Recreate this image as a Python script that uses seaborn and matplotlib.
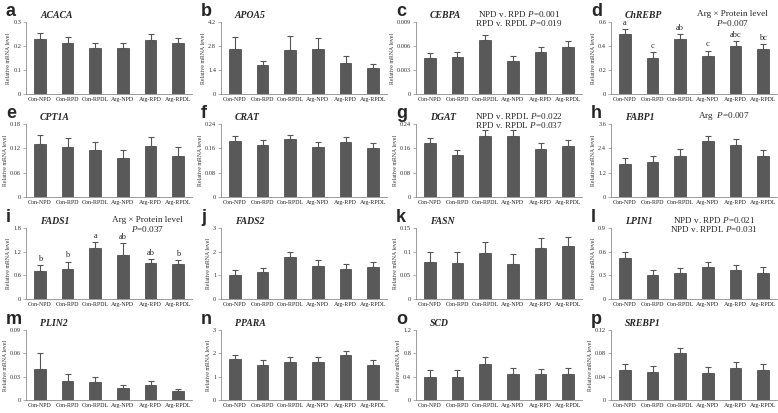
import numpy as np
import pandas as pd
import matplotlib
matplotlib.use("Agg")
import matplotlib.pyplot as plt
import seaborn as sns

groups = ["Con-NPD", "Con-RPD", "Con-RPDL", "Arg-NPD", "Arg-RPD", "Arg-RPDL"]

acaca_mean = [0.231, 0.214, 0.192, 0.191, 0.227, 0.213]
acaca_err = [0.022, 0.022, 0.022, 0.021, 0.022, 0.020]
acaca_ticks = [0, 0.1, 0.2, 0.3]

apoa5_mean = [2.65, 1.70, 2.55, 2.65, 1.80, 1.50]
apoa5_err = [0.70, 0.25, 0.85, 0.60, 0.40, 0.25]
apoa5_ticks = [0, 1.4, 2.8, 4.2]

cebpa_mean = [0.0045, 0.0046, 0.0068, 0.0041, 0.0053, 0.0059]
cebpa_err = [0.0006, 0.0006, 0.0006, 0.0006, 0.0006, 0.0007]
cebpa_ticks = [0, 0.003, 0.006, 0.009]

chrebp_mean = [0.497, 0.298, 0.456, 0.318, 0.400, 0.373]
chrebp_err = [0.043, 0.050, 0.044, 0.044, 0.045, 0.044]
chrebp_ticks = [0, 0.2, 0.4, 0.6]
chrebp_letters = ["a", "c", "ab", "c", "abc", "bc"]

cpt1a_mean = [0.131, 0.124, 0.115, 0.097, 0.125, 0.102]
cpt1a_err = [0.022, 0.022, 0.020, 0.019, 0.022, 0.021]
cpt1a_ticks = [0, 0.06, 0.12, 0.18]

crat_mean = [0.183, 0.172, 0.191, 0.166, 0.181, 0.161]
crat_err = [0.016, 0.016, 0.014, 0.015, 0.016, 0.015]
crat_ticks = [0, 0.08, 0.16, 0.24]

dgat_mean = [0.177, 0.139, 0.201, 0.201, 0.158, 0.168]
dgat_err = [0.017, 0.016, 0.019, 0.019, 0.018, 0.020]
dgat_ticks = [0, 0.08, 0.16, 0.24]

fabp1_mean = [1.62, 1.73, 2.04, 2.75, 2.58, 2.01]
fabp1_err = [0.31, 0.28, 0.31, 0.27, 0.30, 0.30]
fabp1_ticks = [0, 1.2, 2.4, 3.6]

fads1_mean = [0.72, 0.77, 1.29, 1.12, 0.925, 0.88]
fads1_err = [0.14, 0.18, 0.15, 0.30, 0.095, 0.10]
fads1_ticks = [0, 0.6, 1.2, 1.8]
fads1_letters = ["b", "b", "a", "ab", "ab", "b"]

fads2_mean = [1.02, 1.12, 1.77, 1.41, 1.27, 1.34]
fads2_err = [0.21, 0.21, 0.21, 0.22, 0.22, 0.22]
fads2_ticks = [0, 1, 2, 3]

fasn_mean = [0.078, 0.077, 0.098, 0.074, 0.108, 0.111]
fasn_err = [0.021, 0.022, 0.022, 0.021, 0.021, 0.021]
fasn_ticks = [0, 0.05, 0.1, 0.15]

lpin1_mean = [0.526, 0.306, 0.327, 0.403, 0.370, 0.335]
lpin1_err = [0.068, 0.064, 0.063, 0.067, 0.063, 0.065]
lpin1_ticks = [0, 0.3, 0.6, 0.9]

plin2_mean = [0.040, 0.025, 0.023, 0.016, 0.019, 0.012]
plin2_err = [0.021, 0.008, 0.006, 0.003, 0.006, 0.002]
plin2_ticks = [0, 0.03, 0.06, 0.09]

ppara_mean = [1.75, 1.50, 1.65, 1.65, 1.95, 1.50]
ppara_err = [0.20, 0.20, 0.20, 0.20, 0.15, 0.20]
ppara_ticks = [0, 1, 2, 3]

scd_mean = [0.40, 0.40, 0.62, 0.45, 0.44, 0.45]
scd_err = [0.12, 0.12, 0.12, 0.10, 0.10, 0.10]
scd_ticks = [0, 0.4, 0.8, 1.2]

srebp1_mean = [0.052, 0.048, 0.080, 0.046, 0.055, 0.052]
srebp1_err = [0.010, 0.010, 0.010, 0.010, 0.010, 0.010]
srebp1_ticks = [0, 0.04, 0.08, 0.12]

panels = [
    ("a", "ACACA", acaca_mean, acaca_err, acaca_ticks, None),
    ("b", "APOA5", apoa5_mean, apoa5_err, apoa5_ticks, None),
    ("c", "CEBPA", cebpa_mean, cebpa_err, cebpa_ticks, None),
    ("d", "ChREBP", chrebp_mean, chrebp_err, chrebp_ticks, chrebp_letters),
    ("e", "CPT1A", cpt1a_mean, cpt1a_err, cpt1a_ticks, None),
    ("f", "CRAT", crat_mean, crat_err, crat_ticks, None),
    ("g", "DGAT", dgat_mean, dgat_err, dgat_ticks, None),
    ("h", "FABP1", fabp1_mean, fabp1_err, fabp1_ticks, None),
    ("i", "FADS1", fads1_mean, fads1_err, fads1_ticks, fads1_letters),
    ("j", "FADS2", fads2_mean, fads2_err, fads2_ticks, None),
    ("k", "FASN", fasn_mean, fasn_err, fasn_ticks, None),
    ("l", "LPIN1", lpin1_mean, lpin1_err, lpin1_ticks, None),
    ("m", "PLIN2", plin2_mean, plin2_err, plin2_ticks, None),
    ("n", "PPARA", ppara_mean, ppara_err, ppara_ticks, None),
    ("o", "SCD", scd_mean, scd_err, scd_ticks, None),
    ("p", "SREBP1", srebp1_mean, srebp1_err, srebp1_ticks, None),
]

annotations = {
    "c": ["NPD v. RPD $\\it{P}$=0.001", "RPD v. RPDL $\\it{P}$=0.019"],
    "d": ["Arg × Protein level", "$\\it{P}$=0.007"],
    "g": ["NPD v. RPDL $\\it{P}$=0.022", "RPD v. RPDL $\\it{P}$=0.037"],
    "h": ["Arg  $\\it{P}$=0.007"],
    "i": ["Arg × Protein level", "$\\it{P}$=0.037"],
    "l": ["NPD v. RPD $\\it{P}$=0.021", "NPD v. RPDL $\\it{P}$=0.031"],
}

sns.set_style("white")
plt.rcParams["font.family"] = ["Liberation Serif", "DejaVu Serif"]
plt.rcParams["mathtext.fontset"] = "custom"
plt.rcParams["mathtext.it"] = "Liberation Serif:italic"
plt.rcParams["mathtext.rm"] = "Liberation Serif"

W, H = 778, 413
fig = plt.figure(figsize=(W / 100, H / 100), dpi=100)

col_left = [26, 221, 416, 611]
col_w = 166
rows = [(22, 94), (124, 197), (228, 299), (330, 400)]

bar_color = "#595959"
edge_color = "#404040"
spine_color = "#8c8c8c"

for idx, (letter, gene, mean, err, ticks, sig) in enumerate(panels):
    r, c = divmod(idx, 4)
    top, bot = rows[r]
    left = col_left[c]
    ax = fig.add_axes([left / W, 1 - bot / H, col_w / W, (bot - top) / H])
    df = pd.DataFrame({"group": groups, "value": mean})
    sns.barplot(data=df, x="group", y="value", ax=ax, color=bar_color,
                width=0.42, edgecolor=edge_color, linewidth=0.5, saturation=1)
    xs = np.arange(len(groups))
    ax.errorbar(xs, mean, yerr=[np.zeros(len(err)), err], fmt="none",
                ecolor="#555555", elinewidth=0.8, capsize=2.2, capthick=0.8)
    ax.set_xlim(-0.5, 5.5)
    ax.set_ylim(ticks[0], ticks[-1])
    ax.set_yticks(ticks)
    ax.set_yticklabels([("%g" % t) for t in ticks], fontsize=4.6, color="#333333")
    ax.set_xticks(xs)
    ax.set_xticklabels(groups, fontsize=4.3, color="#222222")
    ax.set_xlabel("")
    ax.set_ylabel("Relative mRNA level", fontsize=4.2, color="#333333", labelpad=1.5)
    for s in ["top", "right"]:
        ax.spines[s].set_visible(False)
    for s in ["left", "bottom"]:
        ax.spines[s].set_color(spine_color)
        ax.spines[s].set_linewidth(0.6)
    ax.tick_params(axis="y", length=2, width=0.5, color=spine_color, pad=1.5, direction="out", left=True)
    ax.tick_params(axis="x", length=0, pad=2.0)

    fig.text((left - 20) / W, 1 - (top - 10) / H, letter, fontsize=13,
             fontweight="bold", family=["Liberation Sans", "DejaVu Sans"],
             ha="left", va="center")
    fig.text((left + 14) / W, 1 - (top - 6) / H, gene, fontsize=7,
             fontweight="bold", style="italic", ha="left", va="center")

    if sig is not None:
        for i, s in enumerate(sig):
            ax.annotate(s, (i, mean[i] + err[i]), xytext=(0, 1.5),
                        textcoords="offset points", ha="center", va="bottom",
                        fontsize=6.0)

    if letter in annotations:
        lines = annotations[letter]
        cx = left + 0.62 * col_w
        if letter in ("d", "i"):
            cx = left + 0.73 * col_w
        if letter == "h":
            cx = left + 0.68 * col_w
        for k, line in enumerate(lines):
            fig.text(cx / W, 1 - (top - 8 + k * 9) / H, line, fontsize=6.6,
                     ha="center", va="center")

fig.savefig("out.png", dpi=100)
